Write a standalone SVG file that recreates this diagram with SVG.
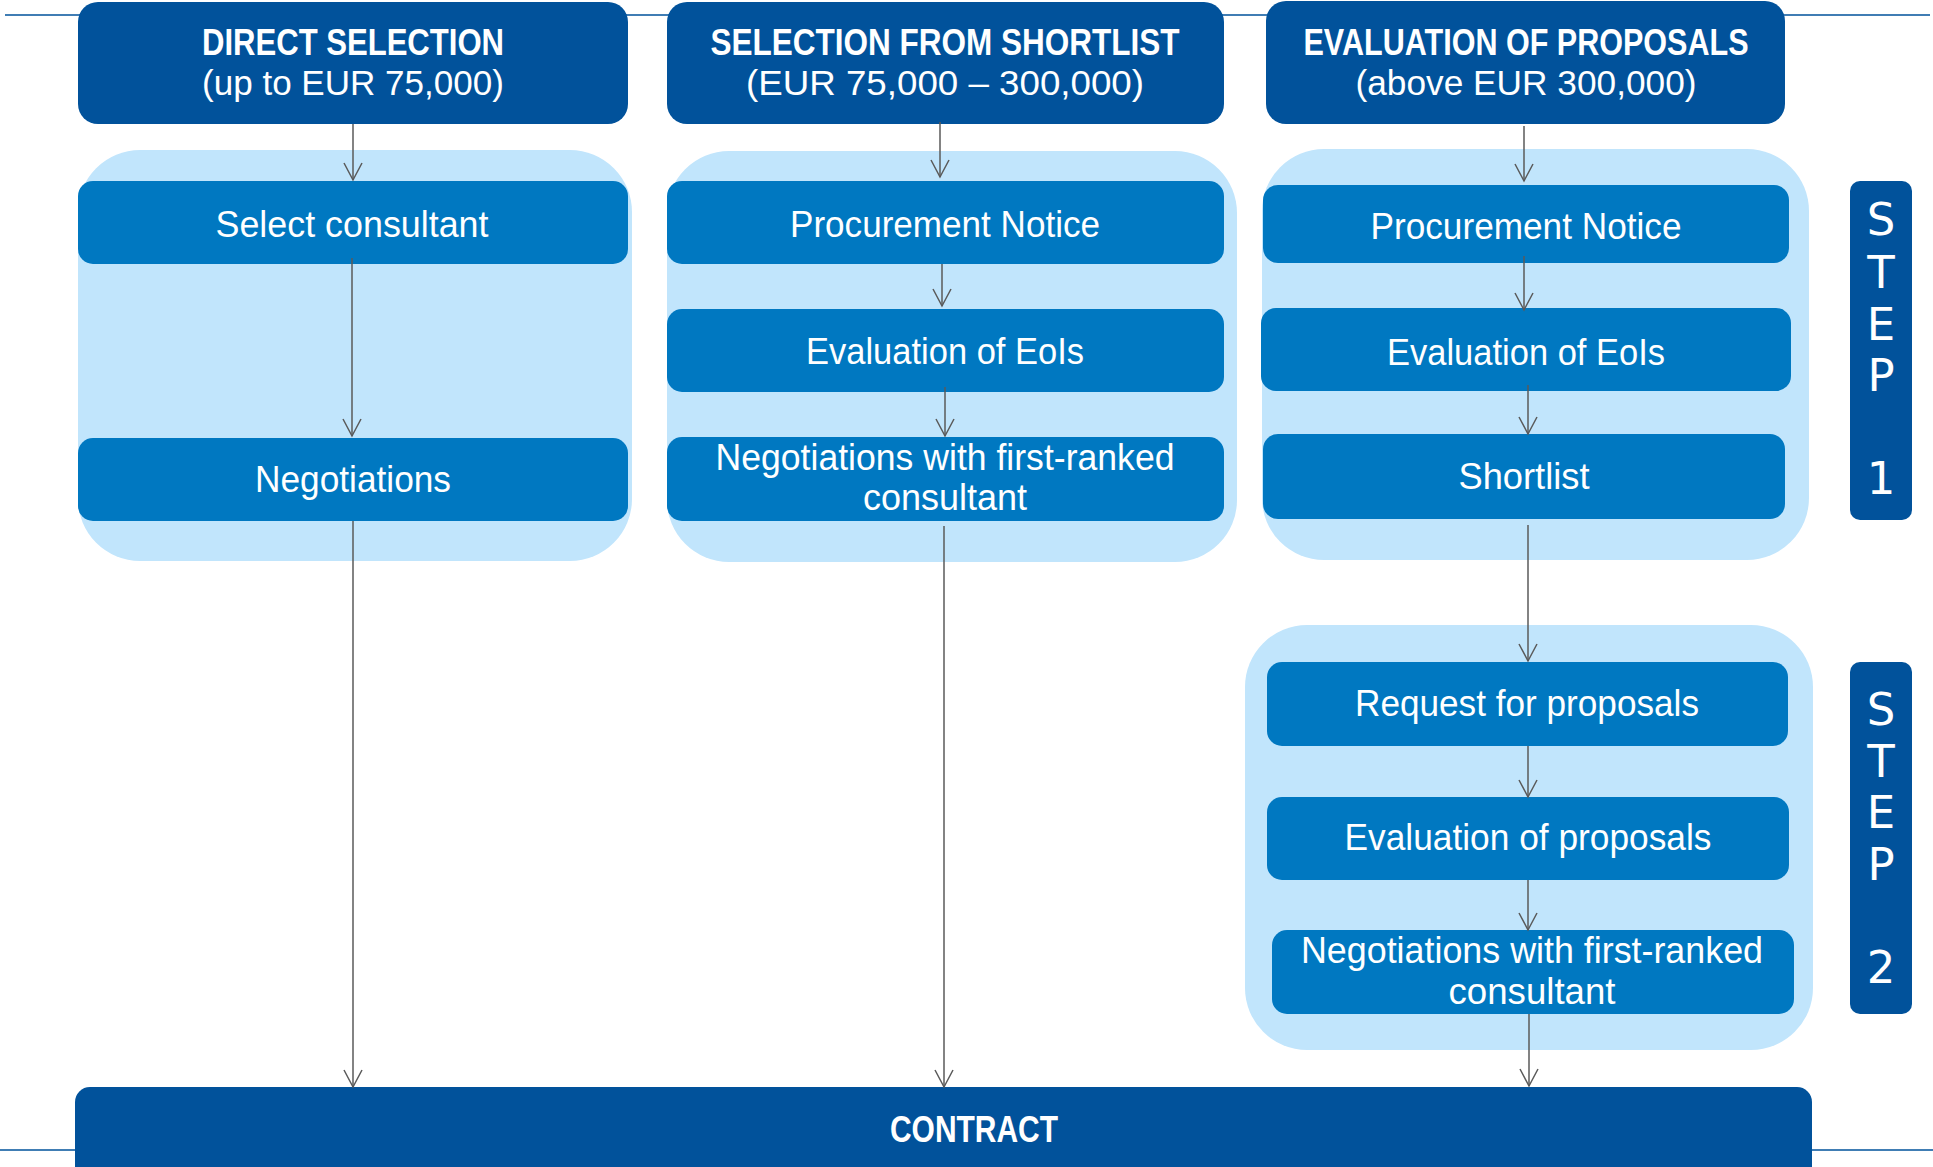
<svg xmlns="http://www.w3.org/2000/svg" width="1933" height="1167" viewBox="0 0 1933 1167">
<defs>
<style>
.hdr{fill:#01529B}
.panel{fill:#C1E5FC}
.box{fill:#0078C1}
.step{fill:#01529B}
.t{font-family:"Liberation Sans",Arial,sans-serif;fill:#FFFFFF;text-anchor:middle}
.tb{font-weight:bold;font-size:37px}
.tr{font-size:35px}
.tn{font-size:37px}
.st{font-family:"DejaVu Sans",Verdana,sans-serif;font-size:45px;fill:#FFFFFF;text-anchor:middle}
.rule{stroke:#01529B;stroke-width:1.5;fill:none}
.c{stroke:#5A5A5A;stroke-width:1.5;fill:none;marker-end:url(#ah)}
</style>
<marker id="ah" viewBox="-1 -10 20 20" refX="17" refY="0" markerWidth="20" markerHeight="20" markerUnits="userSpaceOnUse" orient="auto">
<path d="M0,-9 L17,0 L0,9" fill="none" stroke="#5A5A5A" stroke-width="1.5"/>
</marker>
</defs>
<rect x="0" y="0" width="1933" height="1167" fill="#FFFFFF"/>
<g id="rules">
<line class="rule" x1="5" y1="15" x2="1930" y2="15"/>
<line class="rule" x1="0" y1="1150" x2="1933" y2="1150"/>
</g>
<g id="panels">
<rect class="panel" x="78" y="150" width="554" height="411" rx="62"/>
<rect class="panel" x="667" y="151" width="570" height="411" rx="62"/>
<rect class="panel" x="1262" y="149" width="547" height="411" rx="62"/>
<rect class="panel" x="1245" y="625" width="568" height="425" rx="62"/>
</g>
<g id="h1"><rect class="hdr" x="78" y="2" width="550" height="122" rx="20"/>
<text class="t tb" x="353" y="55" textLength="302" lengthAdjust="spacingAndGlyphs">DIRECT SELECTION</text>
<text class="t tr" x="353" y="95" textLength="302" lengthAdjust="spacingAndGlyphs">(up to EUR 75,000)</text></g>
<g id="h2"><rect class="hdr" x="667" y="2" width="557" height="122" rx="20"/>
<text class="t tb" x="945" y="55" textLength="469" lengthAdjust="spacingAndGlyphs">SELECTION FROM SHORTLIST</text>
<text class="t tr" x="945" y="95" textLength="398" lengthAdjust="spacingAndGlyphs">(EUR 75,000 – 300,000)</text></g>
<g id="h3"><rect class="hdr" x="1266" y="1" width="519" height="123" rx="20"/>
<text class="t tb" x="1526" y="55" textLength="445" lengthAdjust="spacingAndGlyphs">EVALUATION OF PROPOSALS</text>
<text class="t tr" x="1526" y="95" textLength="341" lengthAdjust="spacingAndGlyphs">(above EUR 300,000)</text></g>
<g id="c1-select"><rect class="box" x="78" y="181" width="550" height="83" rx="15"/>
<text class="t tn" x="352" y="237" textLength="273" lengthAdjust="spacingAndGlyphs">Select consultant</text></g>
<g id="c1-neg"><rect class="box" x="78" y="438" width="550" height="83" rx="15"/>
<text class="t tn" x="353" y="492" textLength="196" lengthAdjust="spacingAndGlyphs">Negotiations</text></g>
<g id="c2-notice"><rect class="box" x="667" y="181" width="557" height="83" rx="15"/>
<text class="t tn" x="945" y="237" textLength="310" lengthAdjust="spacingAndGlyphs">Procurement Notice</text></g>
<g id="c2-eoi"><rect class="box" x="667" y="309" width="557" height="83" rx="15"/>
<text class="t tn" x="945" y="364" textLength="278" lengthAdjust="spacingAndGlyphs">Evaluation of EoIs</text></g>
<g id="c2-neg"><rect class="box" x="667" y="437" width="557" height="84" rx="15"/>
<text class="t tn" x="945" y="470" textLength="459" lengthAdjust="spacingAndGlyphs">Negotiations with first-ranked</text>
<text class="t tn" x="945" y="510" textLength="164" lengthAdjust="spacingAndGlyphs">consultant</text></g>
<g id="c3-notice"><rect class="box" x="1263" y="185" width="526" height="78" rx="15"/>
<text class="t tn" x="1526" y="239" textLength="311" lengthAdjust="spacingAndGlyphs">Procurement Notice</text></g>
<g id="c3-eoi"><rect class="box" x="1261" y="308" width="530" height="83" rx="15"/>
<text class="t tn" x="1526" y="365" textLength="278" lengthAdjust="spacingAndGlyphs">Evaluation of EoIs</text></g>
<g id="c3-shortlist"><rect class="box" x="1263" y="434" width="522" height="85" rx="15"/>
<text class="t tn" x="1524" y="489" textLength="131" lengthAdjust="spacingAndGlyphs">Shortlist</text></g>
<g id="c3-rfp"><rect class="box" x="1267" y="662" width="521" height="84" rx="15"/>
<text class="t tn" x="1527" y="716" textLength="344" lengthAdjust="spacingAndGlyphs">Request for proposals</text></g>
<g id="c3-evalprop"><rect class="box" x="1267" y="797" width="522" height="83" rx="15"/>
<text class="t tn" x="1528" y="850" textLength="367" lengthAdjust="spacingAndGlyphs">Evaluation of proposals</text></g>
<g id="c3-neg"><rect class="box" x="1272" y="930" width="522" height="84" rx="15"/>
<text class="t tn" x="1532" y="963" textLength="462" lengthAdjust="spacingAndGlyphs">Negotiations with first-ranked</text>
<text class="t tn" x="1532" y="1004" textLength="167" lengthAdjust="spacingAndGlyphs">consultant</text></g>
<g id="step1"><rect class="step" x="1850" y="181" width="62" height="339" rx="10"/>
<text class="st" x="1881" y="235">S</text><text class="st" x="1881" y="288">T</text><text class="st" x="1881" y="340">E</text><text class="st" x="1881" y="391">P</text><text class="st" x="1881" y="494">1</text></g>
<g id="step2"><rect class="step" x="1850" y="662" width="62" height="352" rx="10"/>
<text class="st" x="1881" y="725">S</text><text class="st" x="1881" y="777">T</text><text class="st" x="1881" y="828">E</text><text class="st" x="1881" y="880">P</text><text class="st" x="1881" y="983">2</text></g>
<g id="contract"><rect class="hdr" x="75" y="1087" width="1737" height="100" rx="15"/>
<text class="t tb" x="974" y="1142" textLength="168" lengthAdjust="spacingAndGlyphs">CONTRACT</text></g>
<g id="connectors">
<line class="c" x1="353" y1="124" x2="353" y2="180"/>
<line class="c" x1="352" y1="258" x2="352" y2="436"/>
<line class="c" x1="353" y1="521" x2="353" y2="1087"/>
<line class="c" x1="940" y1="122" x2="940" y2="177"/>
<line class="c" x1="942" y1="264" x2="942" y2="306"/>
<line class="c" x1="945" y1="387" x2="945" y2="436"/>
<line class="c" x1="944" y1="526" x2="944" y2="1087"/>
<line class="c" x1="1524" y1="126" x2="1524" y2="181"/>
<line class="c" x1="1524" y1="256" x2="1524" y2="310"/>
<line class="c" x1="1528" y1="385" x2="1528" y2="434"/>
<line class="c" x1="1528" y1="525" x2="1528" y2="661"/>
<line class="c" x1="1528" y1="746" x2="1528" y2="797"/>
<line class="c" x1="1528" y1="880" x2="1528" y2="930"/>
<line class="c" x1="1529" y1="1014" x2="1529" y2="1086"/>
</g>
</svg>
